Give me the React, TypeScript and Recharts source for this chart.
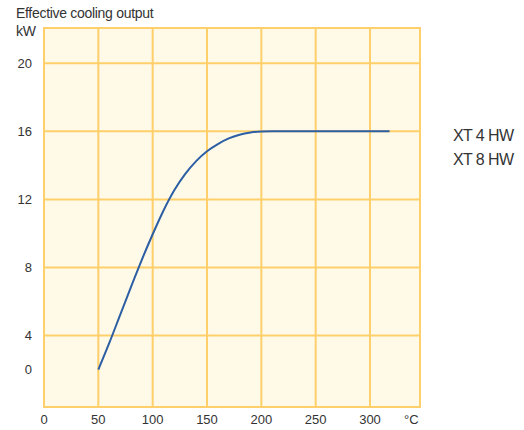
import React from 'react';
import { LineChart, Line, XAxis, YAxis, CartesianGrid, ReferenceArea } from 'recharts';

// temperature (°C) and effective cooling output (kW)
const temps = [50, 60, 70, 80, 90, 100, 110, 120, 130, 140, 150, 160, 170, 180, 190, 200, 210, 318];
const output = [2, 3.55, 5.2, 6.85, 8.45, 9.95, 11.35, 12.55, 13.5, 14.25, 14.83, 15.25, 15.58, 15.8, 15.93, 15.99, 16, 16];

const xTicks = [0, 50, 100, 150, 200, 250, 300, 338];
const xTickLabels = ['0', '50', '100', '150', '200', '250', '300', '°C'];
const yTicks = [2, 4, 8, 12, 16, 20];
const yTickLabels = ['0', '4', '8', '12', '16', '20'];
const xGrid = [50, 100, 150, 200, 250, 300];
const yGrid = [4, 8, 12, 16, 20];
const models = ['XT 4 HW', 'XT 8 HW'];

const data = temps.map((t, i) => ({ t, kw: output[i] }));

const X_DOMAIN: [number, number] = [0, 346];
const Y_DOMAIN: [number, number] = [-0.2, 22.07];
const GRID = '#fecf6a';
const font = '"Liberation Sans", Arial, sans-serif';

export default function App() {
  const tick = { fontSize: 13, fill: '#333', fontFamily: font };
  return (
    <div style={{ position: 'absolute', left: 0, top: 0, width: 524, height: 430, background: '#fff', fontFamily: font, color: '#333' }}>
      <div style={{ position: 'absolute', left: 16, top: 5, fontSize: 14, letterSpacing: -0.3 }}>Effective cooling output</div>
      <div style={{ position: 'absolute', left: 16, top: 23, fontSize: 14, letterSpacing: -0.3 }}>kW</div>
      {models.map((m, i) => (
        <div key={m} style={{ position: 'absolute', left: 453, top: 127 + i * 24, fontSize: 16, letterSpacing: -0.6 }}>{m}</div>
      ))}
      <LineChart width={524} height={430} data={data} margin={{ top: 28, right: 104, left: 0, bottom: 0 }}>
        <CartesianGrid
          fill="#fffae8"
          stroke={GRID}
          strokeWidth={2}
          horizontalValues={yGrid}
          verticalValues={xGrid}
        />
        <ReferenceArea x1={X_DOMAIN[0]} x2={X_DOMAIN[1]} y1={Y_DOMAIN[0]} y2={Y_DOMAIN[1]} fill="none" stroke={GRID} strokeWidth={2} fillOpacity={0} />
        <XAxis
          dataKey="t"
          type="number"
          domain={X_DOMAIN}
          ticks={xTicks}
          tickFormatter={(v: number) => xTickLabels[xTicks.indexOf(v)]}
          tickLine={false}
          axisLine={false}
          height={23}
          tick={tick}
          interval={0}
          allowDataOverflow
        />
        <YAxis
          type="number"
          domain={Y_DOMAIN}
          ticks={yTicks}
          tickFormatter={(v: number) => yTickLabels[yTicks.indexOf(v)]}
          tickLine={false}
          axisLine={false}
          width={44}
          tickMargin={6}
          tick={tick}
          interval={0}
          allowDataOverflow
        />
        <Line type="monotone" dataKey="kw" stroke="#2c5ea3" strokeWidth={2} dot={false} isAnimationActive={false} />
      </LineChart>
    </div>
  );
}
